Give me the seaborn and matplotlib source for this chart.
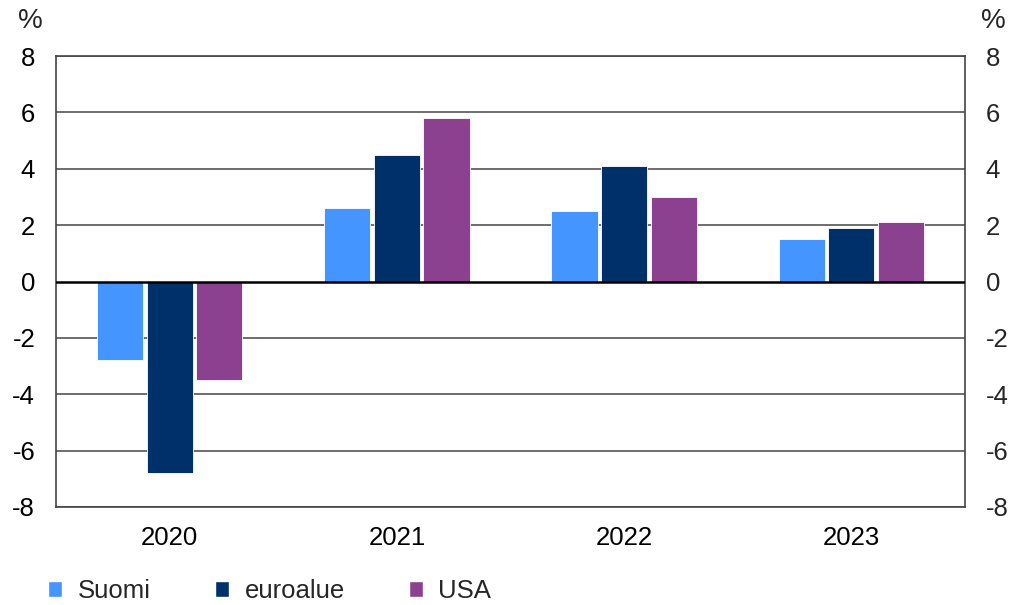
import matplotlib
matplotlib.use("Agg")
import matplotlib.pyplot as plt
import seaborn as sns
import pandas as pd
from matplotlib.patches import Patch

years = ["2020", "2021", "2022", "2023"]
series = ["Suomi", "euroalue", "USA"]
suomi = [-2.8, 2.6, 2.5, 1.5]
euroalue = [-6.8, 4.5, 4.1, 1.9]
usa = [-3.5, 5.8, 3.0, 2.1]
colors = ["#4495FF", "#003069", "#8B418F"]
yticks = [-8, -6, -4, -2, 0, 2, 4, 6, 8]

rows = []
for name, vals in zip(series, [suomi, euroalue, usa]):
    for y, v in zip(years, vals):
        rows.append({"year": y, "series": name, "value": v})
df = pd.DataFrame(rows)

sns.set_style("white")
plt.rcParams["font.family"] = ["Liberation Sans", "DejaVu Sans"]

FS = 18.5

fig = plt.figure(figsize=(10.15, 6.05), dpi=100)
ax = fig.add_axes([56 / 1015, 1 - 507 / 605, 909 / 1015, 451 / 605])

sns.barplot(data=df, x="year", y="value", hue="series", hue_order=series,
            palette=colors, width=0.655, gap=0.07, ax=ax, legend=False,
            edgecolor="white", linewidth=0.6, saturation=1, zorder=3)

ax.set_ylim(-8, 8)
ax.set_xlim(-0.5, 3.5)
ax.set_yticks(yticks)
ax.set_yticklabels([str(t) for t in yticks])
ax.set_xlabel("")
ax.set_ylabel("")
for t in yticks:
    if t != 0:
        ax.axhline(t, color="#555555", linewidth=1.2, zorder=1)
ax.axhline(0, color="black", linewidth=1.8, zorder=4)
for s in ax.spines.values():
    s.set_color("#444444")
    s.set_linewidth(1.2)
ax.tick_params(axis="both", length=0, labelsize=FS, colors="black")
ax.tick_params(axis="x", pad=14)
ax.tick_params(axis="y", pad=15)

ax2 = ax.twinx()
ax2.set_ylim(-8, 8)
ax2.set_yticks(yticks)
ax2.set_yticklabels([str(t) for t in yticks])
ax2.tick_params(axis="y", length=0, labelsize=FS, pad=15)
for s in ax2.spines.values():
    s.set_visible(False)

fig.text(30 / 1015, 1 - 21 / 605, "%", fontsize=20, ha="center", va="center")
fig.text(993 / 1015, 1 - 21 / 605, "%", fontsize=20, ha="center", va="center")

handles = [Patch(facecolor=c, edgecolor="white", label=n) for c, n in zip(colors, series)]
fig.legend(handles=handles, loc="center left", bbox_to_anchor=(25 / 1015, 1 - 591 / 605),
           ncol=3, frameon=False, fontsize=FS, handlelength=0.55, handleheight=0.55,
           handletextpad=0.6, columnspacing=2.5)

fig.savefig("out.png", dpi=100)
